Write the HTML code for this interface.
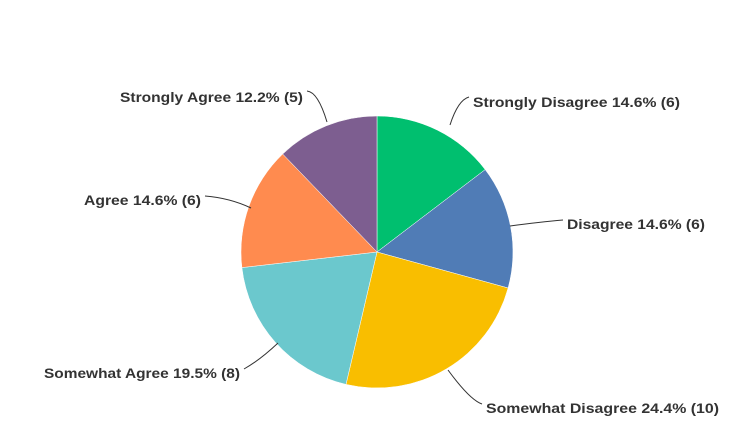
<!DOCTYPE html>
<html><head><meta charset="utf-8"><style>html,body{margin:0;padding:0;background:#fff}svg{display:block}</style></head>
<body>
<svg width="752" height="431" viewBox="0 0 752 431" xmlns="http://www.w3.org/2000/svg">
<g stroke="#fff" stroke-width="0.5">
<path d="M377,252 L377,116 A136,136 0 0 1 485.2,169.6 Z" fill="#00bf6f"/>
<path d="M377,252 L485.2,169.6 A136,136 0 0 1 508.1,288.0 Z" fill="#507cb6"/>
<path d="M377,252 L508.1,288.0 A136,136 0 0 1 346.0,384.4 Z" fill="#f9be00"/>
<path d="M377,252 L346.0,384.4 A136,136 0 0 1 241.9,267.6 Z" fill="#6bc8cd"/>
<path d="M377,252 L241.9,267.6 A136,136 0 0 1 282.7,154.0 Z" fill="#ff8b4f"/>
<path d="M377,252 L282.7,154.0 A136,136 0 0 1 377,116 Z" fill="#7d5e90"/>
</g>
<g fill="none" stroke="#333" stroke-width="1">
<path d="M307,91 Q318,92 327,122"/>
<path d="M469,97 Q458,100 450,125"/>
<path d="M563,220 Q540,222 510,226"/>
<path d="M482,404 Q470,400 448,370"/>
<path d="M244,369 Q260,360 278,343"/>
<path d="M205,196 Q230,198 251,208"/>
</g>
<g font-family="Liberation Sans, sans-serif" font-size="14" font-weight="bold" fill="#333">
<text x="120" y="102" textLength="183" lengthAdjust="spacingAndGlyphs">Strongly Agree 12.2% (5)</text>
<text x="473" y="107" textLength="207" lengthAdjust="spacingAndGlyphs">Strongly Disagree 14.6% (6)</text>
<text x="567" y="229" textLength="138" lengthAdjust="spacingAndGlyphs">Disagree 14.6% (6)</text>
<text x="486" y="413" textLength="233" lengthAdjust="spacingAndGlyphs">Somewhat Disagree 24.4% (10)</text>
<text x="44" y="378" textLength="196" lengthAdjust="spacingAndGlyphs">Somewhat Agree 19.5% (8)</text>
<text x="84" y="205" textLength="117" lengthAdjust="spacingAndGlyphs">Agree 14.6% (6)</text>
</g>
</svg>
</body></html>
